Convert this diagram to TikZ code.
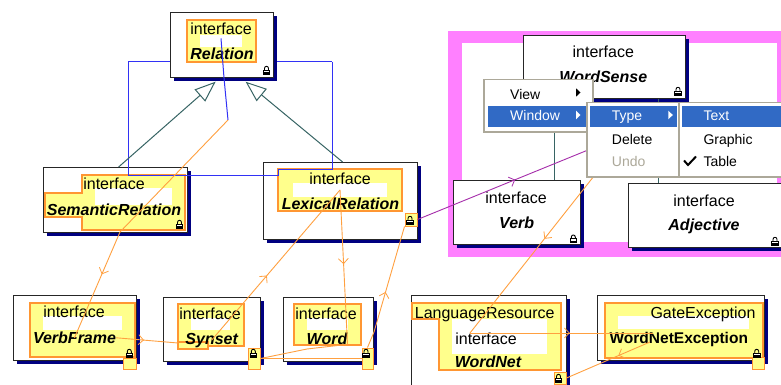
\documentclass[tikz,border=0pt]{standalone}
\usepackage{fontspec}
\setmainfont{Liberation Sans}
\usetikzlibrary{arrows.meta,decorations.markings}

\definecolor{umlyellow}{RGB}{255,255,140}
\definecolor{umlorange}{RGB}{255,150,50}
\definecolor{linkorange}{RGB}{255,160,64}
\definecolor{genteal}{RGB}{55,100,100}
\definecolor{linkblue}{RGB}{50,50,245}
\definecolor{linkpurple}{RGB}{165,45,170}
\definecolor{shadownavy}{RGB}{0,0,128}
\definecolor{pkgpink}{RGB}{255,128,255}
\definecolor{menublue}{RGB}{49,106,197}
\definecolor{menuedge}{RGB}{172,168,153}
\definecolor{menushade}{RGB}{200,200,200}
\definecolor{menudisabled}{RGB}{172,168,153}

\tikzset{
  umlbox/.style={rectangle, anchor=north west, inner sep=0pt, fill=white, draw=black!85, line width=1.2pt},
  boxshadow/.style={fill=shadownavy, shift={(4,4)}},
  stereo/.style={anchor=base, inner sep=0pt, font=\fontsize{16}{18}\selectfont},
  ifname/.style={anchor=base, inner sep=0pt, font=\fontsize{16}{18}\selectfont\bfseries\itshape},
  clsname/.style={anchor=base, inner sep=0pt, font=\fontsize{15.5}{18}\selectfont\bfseries},
  compartment/.style={fill=umlyellow, draw=umlorange, line width=1.1pt},
  blankslot/.style={fill=white},
  lockslot/.style={rectangle, inner sep=0pt, fill=umlyellow, draw=umlorange, line width=1pt},
  orangelink/.style={draw=linkorange, line width=0.9pt},
  bluelink/.style={draw=linkblue, line width=1pt},
  purplelink/.style={draw=linkpurple, line width=0.9pt},
  genlink/.style={draw=genteal, line width=1pt, -{Triangle[open, length=21pt, width=16pt, line width=1pt]}},
  tealline/.style={draw=genteal, line width=1pt},
  midarrow/.style={postaction={decorate, decoration={markings,
      mark=at position #1 with {\arrow[line width=0.8pt]{Straight Barb[length=5pt, width=10pt]}}}}},
  menubox/.style={rectangle, anchor=north west, inner sep=0pt, fill=white, draw=menuedge, line width=1.5pt},
  menushadow/.style={fill=menushade, shift={(2,2)}},
  menuitem/.style={anchor=base west, inner sep=0pt, font=\fontsize{14}{16}\selectfont},
  padlock/.pic={
    \draw[line width=0.9pt] (-2,0.5) -- (-2,-1.6) .. controls (-2,-4.4) and (2,-4.4) .. (2,-1.6) -- (2,0.5);
    \draw[line width=0.7pt, fill=white] (-3.2,0) rectangle (3.2,4);
    \fill (-3.2,2.2) rectangle (3.2,4);
  },
}

% a class box: navy drop shadow first, then the named white frame
\newcommand{\umlclassbox}[5]{%
  \fill[boxshadow] (#2,#3) rectangle ++(#4,#5);
  \node[umlbox, minimum width=#4pt, minimum height=#5pt] (#1) at (#2,#3) {};
}
\newcommand{\popupbox}[5]{%
  \fill[menushadow] (#2,#3) rectangle ++(#4,#5);
  \node[menubox, minimum width=#4pt, minimum height=#5pt] (#1) at (#2,#3) {};
}

\begin{document}
\begin{tikzpicture}[x=1pt,y=-1pt]
\useasboundingbox (0,0) rectangle (781,385);
\fill[white] (0,0) rectangle (781,385);

% ---- package frame with its three interfaces
\fill[pkgpink] (448,31) rectangle (784,257);
\fill[white] (462,43) rectangle (777,242);
\umlclassbox{wordsense}{523}{35}{162}{63}
\umlclassbox{verb}{453}{180}{127}{64}
\umlclassbox{adjective}{628}{183}{157}{64}
\draw[tealline] ([xshift=-50pt]wordsense.south) -- ([xshift=37.5pt]verb.north);
\draw[tealline] ([xshift=54pt]wordsense.south) -- ([xshift=-48.5pt]adjective.north);

% ---- bus line passing behind Relation
\coordinate (bus-nw) at (128,62);
\coordinate (bus-ne) at (332,62);
\coordinate (bus-sw) at (128,175);
\coordinate (bus-step) at (278,175);
\coordinate (bus-step2) at (278,169);
\coordinate (bus-se) at (332,169);
\draw[bluelink] (bus-nw) -- (bus-ne);

% ---- interface boxes
\umlclassbox{relation}{170}{12}{103}{65}
\umlclassbox{semrel}{43}{167}{144}{65}
\umlclassbox{lexrel}{263}{162}{154}{77}
\umlclassbox{verbframe}{13}{295}{123}{65}
\umlclassbox{synset}{163}{297}{97}{64}
\umlclassbox{word}{283}{297}{90}{64}
\umlclassbox{wordnet}{411}{295}{155}{92}
\umlclassbox{wnexc}{597}{295}{167}{65}

% ---- yellow compartments and blank slots
\draw[compartment] (187,20) rectangle (256,62);
\fill[blankslot] (200,35) rectangle (242,47);

\draw[compartment] (82,175) -- (185,175) -- (185,230) -- (82,230) -- (82,217) -- (45,217) -- (45,193) -- (82,193) -- cycle;
\fill[blankslot] (95,188) rectangle (172,205);

\draw[compartment] (278,169) rectangle (402,211);
\fill[blankslot] (293,183) rectangle (387,197);

\draw[compartment] (30,303) rectangle (135,357);
\fill[blankslot] (43,316) rectangle (122,330);

\draw[compartment] (178,304) rectangle (244,346);
\draw[compartment] (178,342) rectangle (208,349);
\fill[blankslot] (191,318) rectangle (230,330);

\draw[compartment] (294,304) rectangle (361,345);
\fill[blankslot] (307,318) rectangle (348,330);

\draw[compartment] (412,303) -- (561,303) -- (561,370) -- (439,370) -- (439,319) -- (412,319) -- cycle;
\fill[blankslot] (452,319) rectangle (547,354);

\draw[compartment] (605,303) rectangle (763,358);
\fill[blankslot] (618,316) rectangle (749,329);

% ---- lock slots
\node[lockslot, minimum width=12pt, minimum height=13pt] (lexrel-lock) at (411,219.5) {};
\node[lockslot, minimum width=13pt, minimum height=11pt] (verbframe-lock) at (129.5,363.5) {};
\node[lockslot, minimum width=12pt, minimum height=21pt] (synset-lock) at (254,358.5) {};
\node[lockslot, minimum width=11pt, minimum height=21pt] (word-lock) at (367.5,358.5) {};
\node[lockslot, minimum width=12pt, minimum height=12pt] (wordnet-lock) at (560,378) {};
\node[lockslot, minimum width=12pt, minimum height=12pt] (wnexc-lock) at (758,363) {};

% ---- labels
\node[stereo] (relation-kw) at (221,35) {interface};
\node[ifname] (relation-nm) at (222,60) {Relation};
\node[stereo] (semrel-kw) at (114,189) {interface};
\node[ifname] (semrel-nm) at (114,215) {SemanticRelation};
\node[stereo] (lexrel-kw) at (340,184) {interface};
\node[ifname] (lexrel-nm) at (340.5,209) {LexicalRelation};
\node[stereo] (verbframe-kw) at (74,317.5) {interface};
\node[ifname] (verbframe-nm) at (74.5,343.5) {VerbFrame};
\node[stereo] (synset-kw) at (210,319) {interface};
\node[ifname] (synset-nm) at (211.7,344) {Synset};
\node[stereo] (word-kw) at (326,319) {interface};
\node[ifname] (word-nm) at (327,344) {Word};
\node[stereo] (wordnet-super) at (484.7,318) {LanguageResource};
\node[stereo] (wordnet-kw) at (486,344) {interface};
\node[ifname] (wordnet-nm) at (488,367.5) {WordNet};
\node[stereo] (wnexc-super) at (703,318) {GateException};
\node[clsname] (wnexc-nm) at (678.8,343.5) {WordNetException};
\node[stereo] (wordsense-kw) at (603.3,57.5) {interface};
\node[ifname] (wordsense-nm) at (603.3,83) {WordSense};
\node[stereo] (verb-kw) at (516,203) {interface};
\node[ifname] (verb-nm) at (516.7,228) {Verb};
\node[stereo] (adjective-kw) at (704,206) {interface};
\node[ifname] (adjective-nm) at (704,230) {Adjective};

% ---- padlocks
\pic at (266.5,70) {padlock};
\pic at (179.5,224) {padlock};
\pic at (410,220) {padlock};
\pic at (129.3,353) {padlock};
\pic at (253.3,353) {padlock};
\pic at (366,353) {padlock};
\pic at (558.5,378) {padlock};
\pic at (756.7,353) {padlock};
\pic at (678,91) {padlock};
\pic at (573.3,238.7) {padlock};
\pic at (775,241) {padlock};

% ---- bus line in front of the boxes
\draw[bluelink] (bus-nw) -- (170,62);
\draw[bluelink] (bus-nw) -- (bus-sw) -- (bus-step) -- (bus-step2) -- (bus-se) -- (bus-ne);

% ---- generalizations
\draw[genlink] ([xshift=3pt]semrel.north) -- ([xshift=-6.5pt,yshift=-3.5pt]relation.south);
\draw[genlink] ([xshift=2pt]lexrel.north) -- ([xshift=23.5pt,yshift=-3.5pt]relation.south);

% ---- associations
\coordinate (rel-bend) at (224,78);
\coordinate (rel-hub) at (228,120);
\coordinate (sem-exit) at (120,232);
\coordinate (synset-entry) at (178,343);
\coordinate (lex-hub) at (340,190);
\coordinate (word-bend) at (374,332);
\coordinate (synset-bend) at (307,349);
\coordinate (purple-end) at (588,150);
\coordinate (menu-exit) at (594,176);
\coordinate (wordnet-hub) at (470,333);
\coordinate (wnexc-hub) at (653,333);
\coordinate (wnexc-tail) at (650,342);

\draw[bluelink] ([yshift=-3pt]relation-kw.south) -- (rel-bend) -- (rel-hub);
\draw[orangelink] (rel-hub) -- (sem-exit);
\draw[orangelink, midarrow=0.4] (sem-exit) -- (verbframe-nm.center);
\draw[orangelink, midarrow=0.45] (verbframe-nm.east) -- (synset-entry);
\draw[orangelink, midarrow=0.43] (synset-nm.center) -- (lex-hub);
\draw[orangelink, midarrow=0.48] (lex-hub) -- (word-nm.south east);
\draw[orangelink] (word-lock.north) -- (word-bend);
\draw[orangelink, midarrow=0.38] (word-bend) -- (lexrel-lock.south west);
\draw[orangelink] (synset-lock.east) -- (word-lock.west);
\draw[orangelink] (synset-lock.east) -- (synset-bend) -- (word-nm.south east);
\draw[purplelink, midarrow=0.573] (lexrel-lock.east) -- (purple-end);
\draw[orangelink, midarrow=0.4] (menu-exit) -- (wordnet-hub);
\draw[orangelink, midarrow=0.546] (wordnet-hub) -- (wnexc-hub);
\draw[orangelink, midarrow=0.38] (wnexc-tail) -- (wordnet-lock.east);

% ---- context menus
\popupbox{menu-main}{483}{79}{109}{52}
\fill[menublue] (488,106) rectangle (587,127);
\node[menuitem] (mi-view) at (510,99.3) {View};
\node[menuitem, text=white] (mi-window) at (510,120.5) {Window};
\fill (576,88.3) -- (580.5,92.5) -- (576,96.7) -- cycle;
\fill[white] (576,110.7) -- (580.5,115) -- (576,119.3) -- cycle;

\popupbox{menu-window}{586}{102}{93}{74}
\fill[menublue] (590,106) rectangle (677,127);
\node[menuitem, text=white] (mi-type) at (611.7,120.7) {Type};
\fill[white] (668.3,110.7) -- (672.8,115) -- (668.3,119.3) -- cycle;
\node[menuitem] (mi-delete) at (611.7,144) {Delete};
\node[menuitem, text=menudisabled] (mi-undo) at (611.7,166) {Undo};

\popupbox{menu-type}{678}{102}{106}{74}
\fill[menublue] (682,106) rectangle (784,127);
\node[menuitem, text=white] (mi-text) at (703.3,120.7) {Text};
\node[menuitem] (mi-graphic) at (703.3,144) {Graphic};
\draw[line width=2pt] (684,160.5) -- (688,165) -- (696,156.5);
\node[menuitem] (mi-table) at (703.3,166) {Table};
\end{tikzpicture}
\end{document}
